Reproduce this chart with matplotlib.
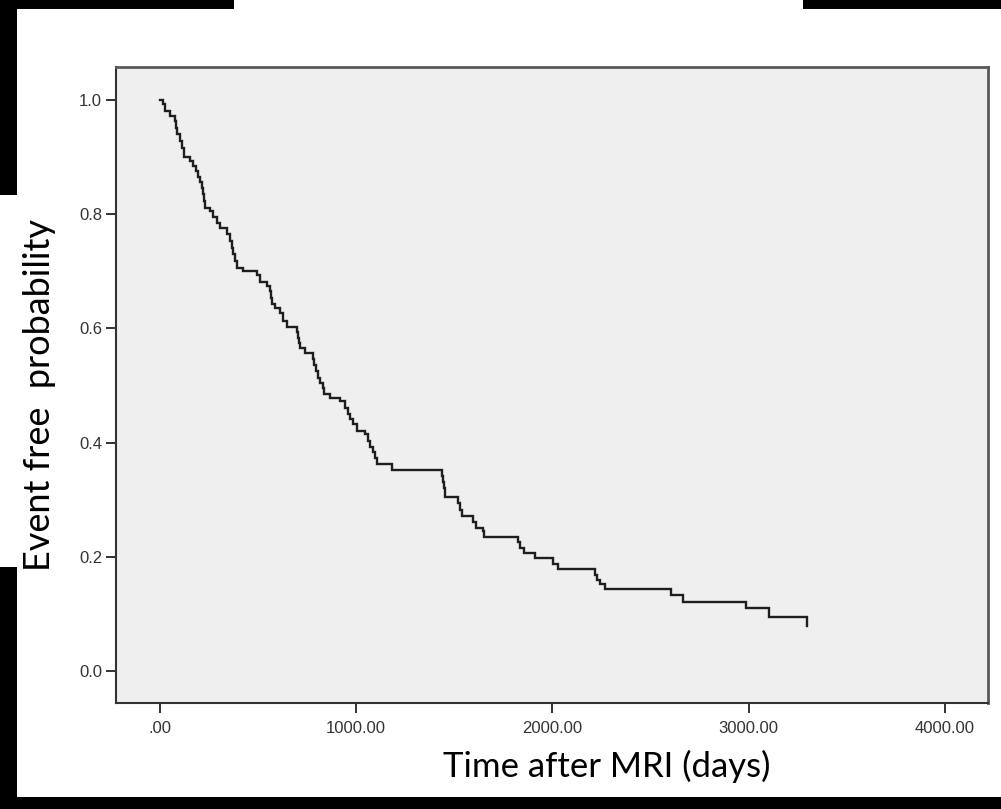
import matplotlib
matplotlib.use("Agg")
import matplotlib.pyplot as plt
from matplotlib.patches import Rectangle

plt.rcParams["font.family"] = ["Liberation Sans", "DejaVu Sans"]

# Kaplan-Meier curve: time of each drop (days) and survival after it
event_days = [15, 25, 51, 76, 82, 87, 102, 112, 122, 153, 168, 184, 194, 204, 214, 219, 224, 230,
              255, 270, 291, 306, 342, 357, 367, 372, 382, 393, 423, 495, 510, 546, 561, 566, 571,
              587, 612, 627, 648, 699, 704, 709, 714, 740, 780, 785, 796, 806, 816, 831, 836, 867,
              918, 944, 959, 969, 984, 1005, 1046, 1061, 1071, 1086, 1097, 1107, 1183, 1438, 1443,
              1448, 1454, 1520, 1530, 1540, 1596, 1612, 1647, 1652, 1826, 1836, 1856, 1913, 2004,
              2030, 2218, 2229, 2244, 2270, 2606, 2667, 2984, 3101, 3295]
survival = [0.993, 0.981, 0.972, 0.963, 0.951, 0.940, 0.928, 0.916, 0.900, 0.893, 0.884, 0.876,
            0.865, 0.856, 0.846, 0.835, 0.823, 0.811, 0.806, 0.795, 0.785, 0.776, 0.765, 0.753,
            0.741, 0.730, 0.718, 0.706, 0.701, 0.694, 0.681, 0.674, 0.665, 0.653, 0.643, 0.636,
            0.627, 0.613, 0.602, 0.594, 0.583, 0.574, 0.566, 0.557, 0.546, 0.536, 0.525, 0.513,
            0.504, 0.496, 0.485, 0.478, 0.473, 0.461, 0.450, 0.441, 0.433, 0.420, 0.415, 0.403,
            0.392, 0.384, 0.373, 0.363, 0.352, 0.342, 0.331, 0.320, 0.305, 0.294, 0.282, 0.271,
            0.261, 0.250, 0.245, 0.235, 0.226, 0.215, 0.207, 0.198, 0.187, 0.179, 0.168, 0.159,
            0.152, 0.144, 0.133, 0.121, 0.110, 0.095, 0.079]

x_ticks = [0, 1000, 2000, 3000, 4000]
x_tick_labels = [".00", "1000.00", "2000.00", "3000.00", "4000.00"]
y_ticks = [0.0, 0.2, 0.4, 0.6, 0.8, 1.0]
y_tick_labels = ["0.0", "0.2", "0.4", "0.6", "0.8", "1.0"]

W, H = 1001, 809
fig = plt.figure(figsize=(W / 100, H / 100), dpi=100)
fig.patch.set_facecolor("white")

# axes box in pixels: left 116, right 988, top 67, bottom 703
ax = fig.add_axes([116 / W, 1 - 703 / H, (988 - 116) / W, (703 - 67) / H])
ax.set_facecolor("#efefef")

times = [0] + event_days
probs = [1.0] + survival
ax.step(times, probs, where="post", color="#1e1e1e", lw=1.7, solid_joinstyle="miter")

ax.set_xlim(-224, 4219)
ax.set_ylim(-0.056, 1.058)
ax.set_xticks(x_ticks)
ax.set_xticklabels(x_tick_labels)
ax.set_yticks(y_ticks)
ax.set_yticklabels(y_tick_labels)
ax.tick_params(axis="both", direction="out", length=7, width=1.4, color="#333333",
               labelsize=12, labelcolor="#333333", pad=3)
ax.tick_params(axis="x", pad=6)

for side in ["left", "bottom"]:
    ax.spines[side].set_color("#333333")
    ax.spines[side].set_linewidth(1.5)
for side in ["top", "right"]:
    ax.spines[side].set_color("#5a5a5a")
    ax.spines[side].set_linewidth(2.0)

# axis titles in a Calibri-like font
fig.text(607 / W, 1 - 766 / H, "Time after MRI (days)", family="Lato", fontsize=25,
         ha="center", va="center", color="black")
fig.text(40 / W, 1 - 395 / H, "Event free  probability", family="Lato", fontsize=26,
         rotation=90, ha="center", va="center", color="black")

# black frame pieces around the picture
def black_bar(x0, y0, x1, y1):
    fig.add_artist(Rectangle((x0 / W, 1 - y1 / H), (x1 - x0) / W, (y1 - y0) / H,
                             transform=fig.transFigure, facecolor="black", edgecolor="none"))

black_bar(0, 0, 234, 9)
black_bar(803, 0, W, 9)
black_bar(0, 0, 17, 195)
black_bar(0, 567, 17, H)
black_bar(0, 797, W, H)

fig.savefig("out.png", dpi=100, facecolor="white")
